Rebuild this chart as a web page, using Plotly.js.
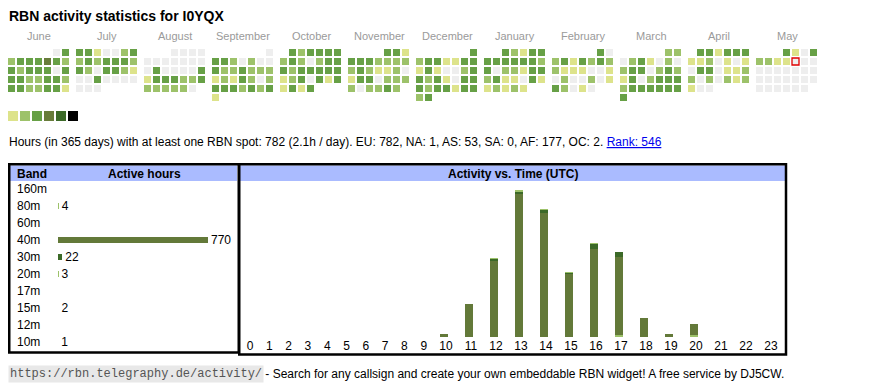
<!DOCTYPE html>
<html><head><meta charset="utf-8">
<script src="https://cdn.plot.ly/plotly-3.0.1.min.js"></script>
<style>html,body{margin:0;padding:0;background:#fff;overflow:hidden}#chart{width:870px;height:390px}</style>
</head><body><div id="chart"></div>
<script>
// ---------------- DATA ----------------
const callsign = 'I0YQX';
const monthNames = ['June','July','August','September','October','November','December','January','February','March','April','May'];
const monthYear  = [2024,2024,2024,2024,2024,2024,2024,2025,2025,2025,2025,2025];
const monthIndex = [5,6,7,8,9,10,11,0,1,2,3,4];
// daily activity level per day of month (0 = none, 1..4 = increasing activity)
const jun = [0,3, 2,3,3,3,4,3,2, 3,2,3,3,3,0,3, 3,3,2,2,3,3,2, 3,3,2,2,3,3,1];
const jul = [3,3,1,0,0,2,3, 2,3,2,3,3,3,2, 3,2,0,3,3,2,1, 0,0,3,0,0,0,0, 0,0,0];
const aug = [0,0,0,0, 0,0,0,0,0,0,0, 0,3,0,0,0,0,3, 1,3,3,3,2,2,3, 2,2,2,2,2,0];
const sep = [0, 3,3,2,0,2,0,0, 3,2,2,3,2,2,2, 1,2,1,3,2,0,2, 3,3,3,2,3,2,3, 1];
const oct = [3,2,3,3,3,3, 2,3,2,0,2,3,3, 3,2,3,3,3,3,3, 1,2,3,0,3,1,3, 1,3,1,3];
const nov = [3,3,1, 3,3,3,2,2,2,2, 2,3,2,1,1,2,0, 1,3,3,0,2,2,2, 2,0,2,2,3,2];
const dec = [3, 2,3,3,1,1,3,3, 1,3,1,0,0,2,3, 3,2,3,1,0,3,3, 3,2,3,3,1,3,3, 2,3];
const jan = [3,2,1,3,3, 3,3,3,3,3,3,2, 3,0,2,2,1,3,3, 2,3,1,1,0,3,1, 1,2,1,2,1];
const feb = [3,0, 2,3,1,3,2,3,2, 2,1,1,1,0,0,1, 0,2,0,0,2,0,1, 3,2,0,1,0];
const mar = [2,2, 0,2,3,1,0,2,0, 2,3,3,0,2,3,2, 1,3,0,2,3,3,3, 2,3,3,3,3,3,3, 3];
const apr = [3,3,1,3,3,3, 1,1,2,0,1,0,1, 0,3,3,0,1,1,2, 2,0,2,0,2,1,2, 1,0,0];
const may = [3,1,0,3, 2,2,1,1,0,0,0, 0,0,0,0,0,0,0, 0,0,0,0,0,0,0, 0,0,0,0,0,0];
const monthLevels = [jun,jul,aug,sep,oct,nov,dec,jan,feb,mar,apr,may];
const todayMonth = 11, todayDay = 9;
const legendLevels = [1,2,3,4,5,6];

const statsText = 'Hours (in 365 days) with at least one RBN spot: 782 (2.1h / day). EU: 782, NA: 1, AS: 53, SA: 0, AF: 177, OC: 2. ';
const rankText = 'Rank: 546';

const bands = ['160m','80m','60m','40m','30m','20m','17m','15m','12m','10m'];
const bandHours = [0,4,0,770,22,3,0,2,0,1];

const hours = ['0','1','2','3','4','5','6','7','8','9','10','11','12','13','14','15','16','17','18','19','20','21','22','23'];
const h80 = [0,0,0,0,0,0,0,0,0,0,0,0,0,0,0,0,0,2,0,0,2,0,0,0];
const h40 = [0,0,0,0,0,0,0,0,0,0,4,40,91,171,149,75,105,94,23,4,14,0,0,0];
const h30 = [0,0,0,0,0,0,0,0,0,0,0,0,2,3,3,2,6,6,0,0,0,0,0,0];
const h20 = [0,0,0,0,0,0,0,0,0,0,0,0,0,1,1,0,1,0,0,0,0,0,0,0];
const h15 = [0,0,0,0,0,0,0,0,0,0,0,0,1,0,0,1,0,0,0,0,0,0,0,0];
const h10 = [0,0,0,0,0,0,0,0,0,0,0,0,0,1,0,0,0,0,0,0,0,0,0,0];

const footerUrl = 'https://rbn.telegraphy.de/activity/';
const footerText = ' - Search for any callsign and create your own embeddable RBN widget! A free service by DJ5CW.';

// ---------------- STYLE / LAYOUT ----------------
const W = 870, H = 390;
const levelColors = ['#eeeeee','#dde38b','#9dc26a','#67a046','#687c3a','#3c6a28','#000000'];
const FONT = 'Liberation Sans, Arial, sans-serif';
const calLeft = 11.5, calTop = 52.5, cellPitch = 9, monthPitch = 68;

const calX = [], calY = [], calC = [];
let todayX = null, todayY = null;
monthLevels.forEach((lv, m) => {
  const first = new Date(Date.UTC(monthYear[m], monthIndex[m], 1));
  const startCol = (first.getUTCDay() + 6) % 7;
  lv.forEach((v, d) => {
    const k = startCol + d;
    const x = calLeft + m * monthPitch + (k % 7) * cellPitch;
    const y = calTop + Math.floor(k / 7) * cellPitch;
    calX.push(x); calY.push(y); calC.push(levelColors[v]);
    if (m === todayMonth && d + 1 === todayDay) { todayX = x; todayY = y; }
  });
});

const traces = [];
traces.push({type:'scatter', mode:'markers', x:calX, y:calY, xaxis:'x3', yaxis:'y3',
  marker:{symbol:'square', size:7, color:calC, line:{width:0}}, hoverinfo:'skip', showlegend:false, cliponaxis:false});
traces.push({type:'scatter', mode:'markers', x:[todayX], y:[todayY], xaxis:'x3', yaxis:'y3',
  marker:{symbol:'square', size:7, color:'#eeeeee', line:{width:1.3, color:'#e00000'}}, hoverinfo:'skip', showlegend:false, cliponaxis:false});
traces.push({type:'scatter', mode:'markers',
  x:legendLevels.map((l,i)=>13 + i*12), y:legendLevels.map(()=>116), xaxis:'x3', yaxis:'y3',
  marker:{symbol:'square', size:10, color:legendLevels.map(l=>levelColors[l]), line:{width:0}}, hoverinfo:'skip', showlegend:false, cliponaxis:false});

// band bars
const bandColor = b => b === '40m' ? '#637939' : (b === '30m' ? '#3c6a28' : '#9dc26a');
traces.push({type:'bar', orientation:'h', y:bands, x:bandHours, xaxis:'x', yaxis:'y', width:0.36,
  marker:{color:bands.map(bandColor), line:{width:0}},
  text:bandHours.map(v => v > 0 ? String(v) : ''), textposition:'outside', constraintext:'none', cliponaxis:false,
  textfont:{family:FONT, size:12, color:'#000'}, hoverinfo:'skip', showlegend:false});

// hour positions like an auto-width table row
const hourPos = [];
let cx = 240.4;
hours.forEach(h => { const w = 13.6 + 5.7 * h.length; hourPos.push(cx + w / 2); cx += w; });
const hourSeries = [[h80,'#9dc26a'],[h40,'#637939'],[h30,'#3c6a28'],[h20,'#9dc26a'],[h15,'#9dc26a'],[h10,'#9dc26a']];
hourSeries.forEach(([vals, col]) => {
  traces.push({type:'bar', x:hourPos, y:vals, xaxis:'x2', yaxis:'y2', width:8, offset:-5.5,
    marker:{color:col, line:{width:0}}, hoverinfo:'skip', showlegend:false});
});
const maxStack = Math.max(...hours.map((h,i)=>hourSeries.reduce((s,[v])=>s+v[i],0)));

const maxBand = Math.max(...bandHours);
const hidden = {visible:false, fixedrange:true};

const annotations = [];
const A = (o) => annotations.push(Object.assign({xref:'x3', yref:'y3', showarrow:false, borderpad:0, font:{family:FONT, size:12, color:'#000'}}, o));
A({x:8, y:16, xanchor:'left', yanchor:'middle', text:'<b>RBN activity statistics for ' + callsign + '</b>', font:{family:FONT, size:14, color:'#000'}});
monthNames.forEach((n, m) => A({x:8 + m*monthPitch + 31, y:35.5, xanchor:'center', yanchor:'middle', text:n, font:{family:FONT, size:11, color:'#9a9a9a'}}));
A({x:8, y:142, xanchor:'left', yanchor:'middle', text: statsText + '<span style="color:#0000ee"><u>' + rankText + '</u></span>'});
A({x:16, y:173.5, xanchor:'left', yanchor:'middle', text:'<b>Band</b>'});
A({x:144.5, y:173.5, xanchor:'center', yanchor:'middle', text:'<b>Active hours</b>'});
A({x:513, y:173.5, xanchor:'center', yanchor:'middle', text:'<b>Activity vs. Time (UTC)</b>'});
bands.forEach((b, i) => annotations.push({xref:'x3', yref:'y', x:16, y:i, xanchor:'left', yanchor:'middle', showarrow:false, borderpad:0, text:b, font:{family:FONT, size:12, color:'#000'}}));
A({x:8, y:374, xanchor:'left', yanchor:'middle', text:footerUrl, bgcolor:'#e8e8e8', borderpad:1, font:{family:'Liberation Mono, monospace', size:12, color:'#555'}});
A({x:261, y:374, xanchor:'left', yanchor:'middle', text:footerText});

const shapes = [
  {type:'rect', xref:'x3', yref:'y3', x0:10, x1:237, y0:165.5, y1:181, fillcolor:'#aabbff', line:{width:0}, layer:'below'},
  {type:'rect', xref:'x3', yref:'y3', x0:240, x1:785, y0:165.5, y1:181, fillcolor:'#aabbff', line:{width:0}, layer:'below'},
  {type:'rect', xref:'x3', yref:'y3', x0:9.25, x1:238.75, y0:164.25, y1:352.5, line:{width:2.5, color:'#000'}},
  {type:'rect', xref:'x3', yref:'y3', x0:239.25, x1:786, y0:164.25, y1:354.5, line:{width:2.5, color:'#000'}}
];

const layout = {
  width:W, height:H, margin:{l:0,r:0,t:0,b:0}, paper_bgcolor:'#fff', plot_bgcolor:'rgba(0,0,0,0)',
  showlegend:false, barmode:'stack', font:{family:FONT, size:12, color:'#000'},
  xaxis:Object.assign({}, hidden, {domain:[58/W, 258/W], range:[0, maxBand*200/150], anchor:'y'}),
  yaxis:Object.assign({}, hidden, {domain:[(H-350.5)/H, (H-180.5)/H], type:'category', categoryarray:bands, range:[bands.length-0.5, -0.5], anchor:'x'}),
  xaxis2:{domain:[0,1], range:[0,W], anchor:'y2', tickvals:hourPos, ticktext:hours, ticks:'', showgrid:false, zeroline:false, showline:false, fixedrange:true,
    tickfont:{family:FONT, size:12, color:'#000'}},
  yaxis2:Object.assign({}, hidden, {domain:[(H-337)/H, (H-190)/H], range:[0, maxStack], anchor:'x2'}),
  xaxis3:Object.assign({}, hidden, {domain:[0,1], range:[0,W], anchor:'y3'}),
  yaxis3:Object.assign({}, hidden, {domain:[0,1], range:[H,0], anchor:'x3'}),
  annotations, shapes
};
Plotly.newPlot('chart', traces, layout, {staticPlot:true, displayModeBar:false});
</script></body></html>
